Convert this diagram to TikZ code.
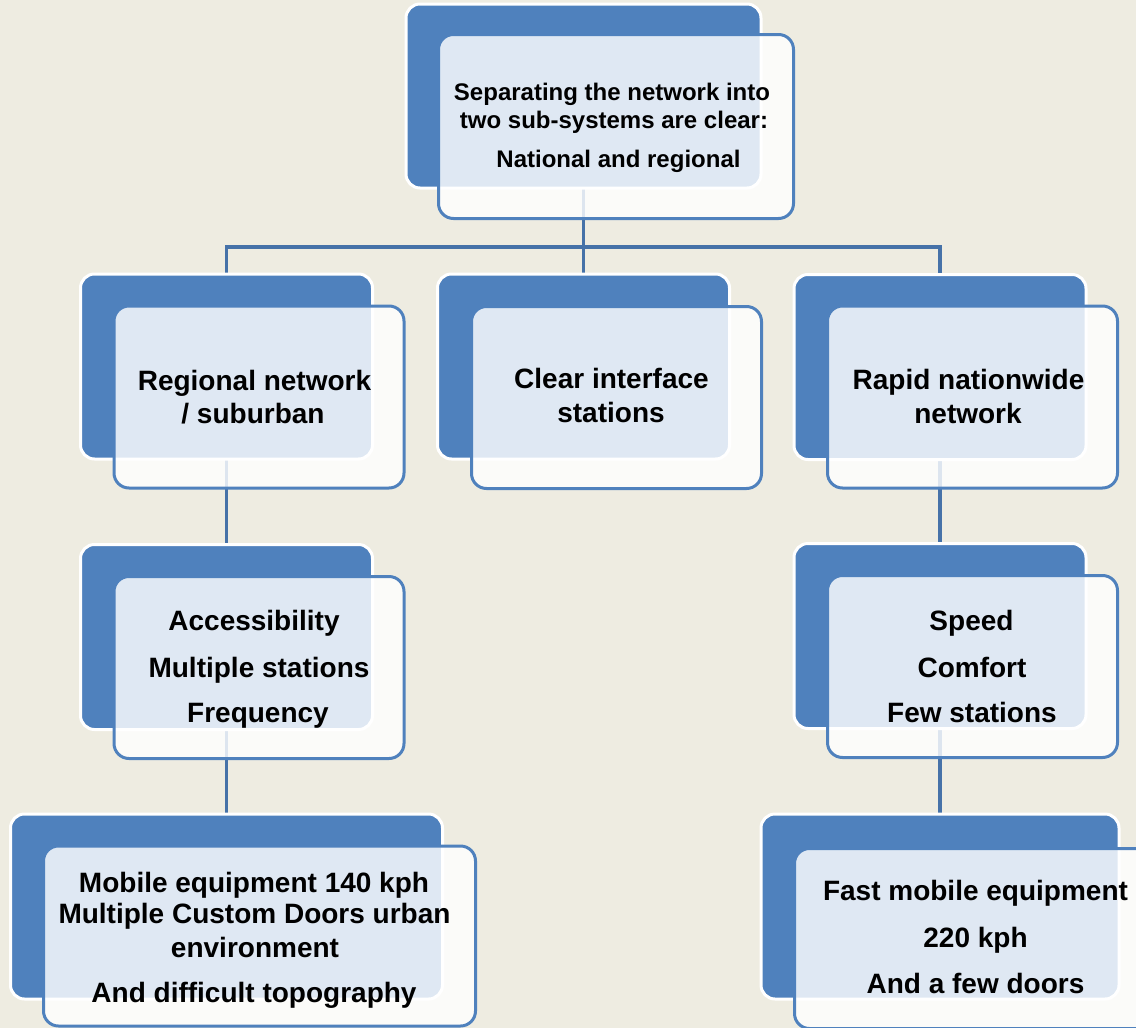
\documentclass[tikz,border=0pt]{standalone}
\usepackage{fontspec}
\setmainfont{Liberation Sans}
\definecolor{bgc}{HTML}{EEECE1}
\definecolor{acc}{HTML}{4F81BD}
\definecolor{connc}{HTML}{4672A8}
\pgfdeclarelayer{bglayer}
\pgfdeclarelayer{linelayer}
\pgfsetlayers{bglayer,linelayer,main}
\begin{document}
\begin{tikzpicture}[x=1pt,y=-1pt,
  backbox/.style={rectangle, draw=white, line width=3pt, fill=acc, rounded corners=14pt, inner sep=0pt},
  frontbox/.style={rectangle, draw=acc, line width=3pt, fill=white, fill opacity=0.82, rounded corners=15pt, inner sep=0pt},
  txt/.style={anchor=base, inner sep=0pt, text=black, font=\fontsize{28}{33}\selectfont\bfseries},
  smalltxt/.style={txt, font=\fontsize{24}{28}\selectfont\bfseries},
  conn/.style={draw=connc, line width=3.2pt}]
\useasboundingbox (0,0) rectangle (1136,1028);
\begin{pgfonlayer}{bglayer}
  \fill[bgc] (0,0) rectangle (1136,1028);
\end{pgfonlayer}
\clip (0,0) rectangle (1136,1028);

% top
\node[backbox, minimum width=355pt, minimum height=184pt] (T1b) at (583.5,96) {};
\node[frontbox, minimum width=355pt, minimum height=184pt] (T1f) at (616,126.5) {};
% row 2
\node[backbox, minimum width=292pt, minimum height=185pt] (L2b) at (226.5,366.5) {};
\node[frontbox, minimum width=290pt, minimum height=182pt] (L2f) at (259,397) {};
\node[backbox, minimum width=292pt, minimum height=185pt] (M2b) at (583.5,366.5) {};
\node[frontbox, minimum width=290pt, minimum height=182pt] (M2f) at (616.5,397.5) {};
\node[backbox, minimum width=292pt, minimum height=185pt] (R2b) at (940,367) {};
\node[frontbox, minimum width=290pt, minimum height=182pt] (R2f) at (972.5,397) {};
% row 3
\node[backbox, minimum width=292pt, minimum height=185pt] (L3b) at (226.5,637) {};
\node[frontbox, minimum width=290pt, minimum height=182pt] (L3f) at (259,667.5) {};
\node[backbox, minimum width=292pt, minimum height=185pt] (R3b) at (940,636) {};
\node[frontbox, minimum width=290pt, minimum height=182pt] (R3f) at (972.5,666.5) {};
% row 4
\node[backbox, minimum width=432pt, minimum height=185pt] (L4b) at (226.5,906.5) {};
\node[frontbox, minimum width=432pt, minimum height=180pt] (L4f) at (259.5,936) {};
\node[backbox, minimum width=358pt, minimum height=185pt] (R4b) at (940,906.5) {};
\node[frontbox, minimum width=357pt, minimum height=180pt] (R4f) at (973,938.5) {};

% connectors
\coordinate (hub) at (583.5,247);
\begin{pgfonlayer}{linelayer}
  \draw[conn] (T1b.center) -- (hub);
  \draw[conn] (hub) -| (L2b.north);
  \draw[conn] (hub) -- (M2b.north);
  \draw[conn] (hub) -| (R2b.north);
  \draw[conn] (L2b.center) -- (L3b.center);
  \draw[conn] (L3b.center) -- (L4b.center);
  \draw[conn] (R2b.center) -- (R3b.center);
  \draw[conn] (R3b.center) -- (R4b.center);
\end{pgfonlayer}

% texts
\node[smalltxt] (t1a) at (612,100) {Separating the network into};
\node[smalltxt] (t1b) at (614,128) {two sub-systems are clear:};
\node[smalltxt] (t1c) at (618.5,167) {National and regional};

\node[txt] (l2a) at (254.5,390) {Regional network};
\node[txt] (l2b) at (253,423) {/ suburban};
\node[txt] (m2a) at (611.5,388) {Clear interface};
\node[txt] (m2b) at (611,422) {stations};
\node[txt] (r2a) at (968.5,389) {Rapid nationwide};
\node[txt] (r2b) at (968,423) {network};

\node[txt] (l3a) at (254,630) {Accessibility};
\node[txt] (l3b) at (259,677) {Multiple stations};
\node[txt] (l3c) at (258,722) {Frequency};
\node[txt] (r3a) at (971.5,630) {Speed};
\node[txt] (r3b) at (972,677) {Comfort};
\node[txt] (r3c) at (972,722) {Few stations};

\node[txt] (l4a) at (254,892) {Mobile equipment 140 kph};
\node[txt] (l4b) at (254.5,923) {Multiple Custom Doors urban};
\node[txt] (l4c) at (255,957) {environment};
\node[txt] (l4d) at (254,1002) {And difficult topography};
\node[txt] (r4a) at (975.5,900) {Fast mobile equipment};
\node[txt] (r4b) at (975.5,947) {220 kph};
\node[txt] (r4c) at (975.5,993) {And a few doors};
\end{tikzpicture}
\end{document}
